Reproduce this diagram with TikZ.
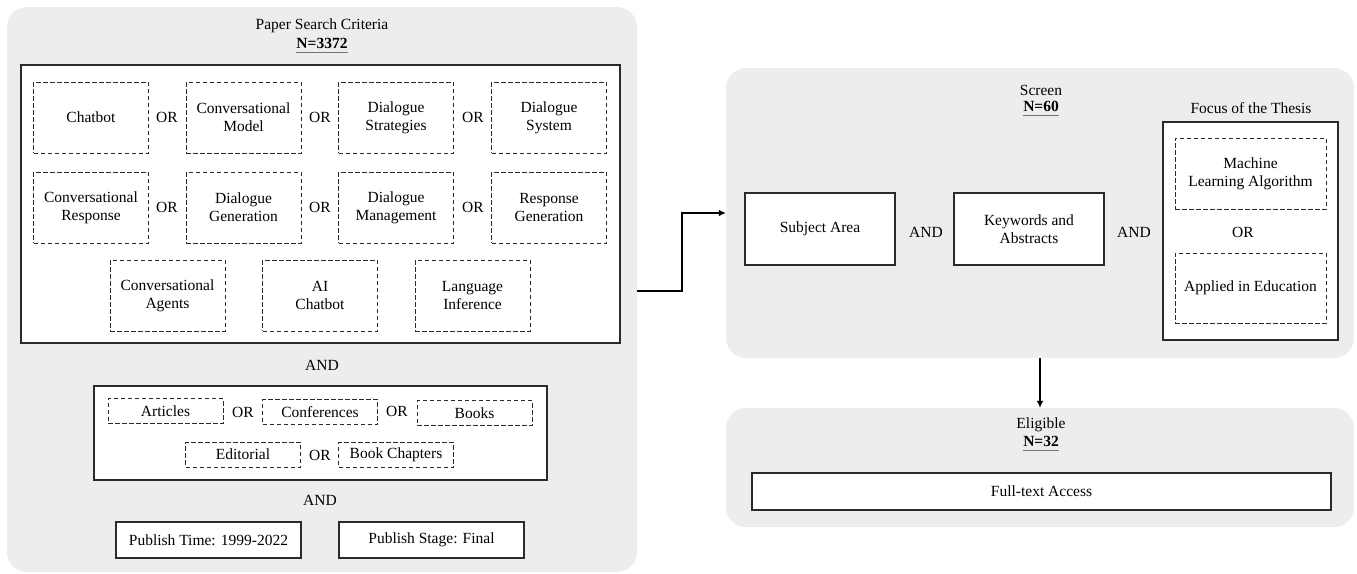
\documentclass[tikz,border=0pt]{standalone}
\usepackage{fontspec}
\setmainfont{Liberation Serif}
\usetikzlibrary{arrows.meta}
\definecolor{panelgray}{HTML}{EDEDED}
\definecolor{edge}{HTML}{2A2A2A}
% bold count with a grey underline
\newcommand\countline[1]{\setbox0\hbox{\textbf{#1}}\rlap{\textbf{#1}}\raisebox{-4.5pt}{\color{black!55}\rule{\wd0}{1.6pt}}}
\tikzset{
  panel/.style={fill=panelgray, draw=none, rounded corners=20pt},
  solidbox/.style={draw=edge, fill=white, line width=1.1pt, align=center, inner sep=2pt},
  dashbox/.style={draw=edge, fill=white, line width=1pt, dash pattern=on 4.5pt off 2.5pt, align=center, inner sep=2pt},
  lbl/.style={inner sep=0pt, align=center},
  conn/.style={draw=black, line width=2pt, -{Latex[length=7pt,width=7pt]}},
}
\begin{document}
\begin{tikzpicture}[x=1pt, y=-1pt, font=\fontsize{15.5}{18}\selectfont]
\useasboundingbox (0,0) rectangle (1357,573);

% ---------- search criteria panel ----------
\node[panel, minimum width=630, minimum height=565] (lp) at (322,289.5) {};
\node[lbl] (lptitle) at (322,26) {Paper Search Criteria};
\node[lbl] (lpcount) at (322,46) {\countline{N=3372}};

\node[solidbox, minimum width=599, minimum height=278] (kw) at (320.5,204) {};
% row 1
\node[dashbox, minimum width=115, minimum height=71] (k1) at (91,117.5) {Chatbot};
\node[dashbox, minimum width=115, minimum height=71] (k2) at (243.5,117.5) {Conversational\\Model};
\node[dashbox, minimum width=115, minimum height=71] (k3) at (396,117.5) {Dialogue\\Strategies};
\node[dashbox, minimum width=115, minimum height=71] (k4) at (549,117.5) {Dialogue\\System};
\node[lbl] (or1) at (167,117.5) {OR};
\node[lbl] (or2) at (320,117.5) {OR};
\node[lbl] (or3) at (473,117.5) {OR};
% row 2
\node[dashbox, minimum width=115, minimum height=71] (k5) at (91,207.5) {Conversational\\Response};
\node[dashbox, minimum width=115, minimum height=71] (k6) at (243.5,207.5) {Dialogue\\Generation};
\node[dashbox, minimum width=115, minimum height=71] (k7) at (396,207.5) {Dialogue\\Management};
\node[dashbox, minimum width=115, minimum height=71] (k8) at (549,207.5) {Response\\Generation};
\node[lbl] (or4) at (167,207.5) {OR};
\node[lbl] (or5) at (320,207.5) {OR};
\node[lbl] (or6) at (473,207.5) {OR};
% row 3
\node[dashbox, minimum width=115, minimum height=71] (k9) at (167.5,295.5) {Conversational\\Agents};
\node[dashbox, minimum width=115, minimum height=71] (k10) at (320,295.5) {AI\\Chatbot};
\node[dashbox, minimum width=115, minimum height=71] (k11) at (472.5,295.5) {Language\\Inference};

\node[lbl] (and1) at (322,365) {AND};

% document types
\node[solidbox, minimum width=453, minimum height=94] (dt) at (320.5,433) {};
\node[dashbox, minimum width=115, minimum height=25] (d1) at (165.5,411) {Articles};
\node[dashbox, minimum width=115, minimum height=25] (d2) at (320,412) {Conferences};
\node[dashbox, minimum width=115, minimum height=25] (d3) at (474.5,413) {Books};
\node[dashbox, minimum width=115, minimum height=25] (d4) at (243,454.5) {Editorial};
\node[dashbox, minimum width=115, minimum height=25] (d5) at (396,455) {Book Chapters};
\node[lbl] (or7) at (243,412) {OR};
\node[lbl] (or8) at (397,411) {OR};
\node[lbl] (or9) at (320,455) {OR};

\node[lbl] (and2) at (320,500) {AND};

\node[solidbox, minimum width=185, minimum height=36] (pt) at (208.5,540) {Publish Time: 1999-2022};
\node[solidbox, minimum width=185, minimum height=36] (ps) at (431.5,540) {Publish Stage: Final};

% ---------- screen panel ----------
\node[panel, minimum width=628, minimum height=290] (sp) at (1040,213) {};
\node[lbl] (sptitle) at (1041,90) {Screen};
\node[lbl] (spcount) at (1041,109) {\countline{N=60}};

\node[solidbox, minimum width=150, minimum height=72] (sa) at (820,229) {Subject Area};
\node[lbl] (and3) at (926,232) {AND};
\node[solidbox, minimum width=150, minimum height=72] (ka) at (1029,229) {Keywords and\\Abstracts};
\node[lbl] (and4) at (1134,232) {AND};

\node[lbl] (fttitle) at (1251,108) {Focus of the Thesis};
\node[solidbox, minimum width=175, minimum height=218] (ft) at (1250.5,231) {};
\node[dashbox, minimum width=151, minimum height=71] (f1) at (1250.5,173.5) {Machine\\Learning Algorithm};
\node[lbl] (or10) at (1243,232) {OR};
\node[dashbox, minimum width=151, minimum height=70] (f2) at (1250.5,288) {Applied in Education};

% ---------- eligible panel ----------
\node[panel, minimum width=628, minimum height=119] (ep) at (1040,467.5) {};
\node[lbl] (eptitle) at (1041,425) {Eligible};
\node[lbl] (epcount) at (1041,444) {\countline{N=32}};
\node[solidbox, minimum width=579, minimum height=37] (fa) at (1041.5,491.5) {Full-text Access};

% ---------- connectors ----------
\coordinate (bend) at (682,213);
\draw[conn] ([yshift=-1.5pt]lp.east) -| (bend) -- (sp.west);
\draw[conn] (sp.south) -- (ep.north);
\end{tikzpicture}
\end{document}
